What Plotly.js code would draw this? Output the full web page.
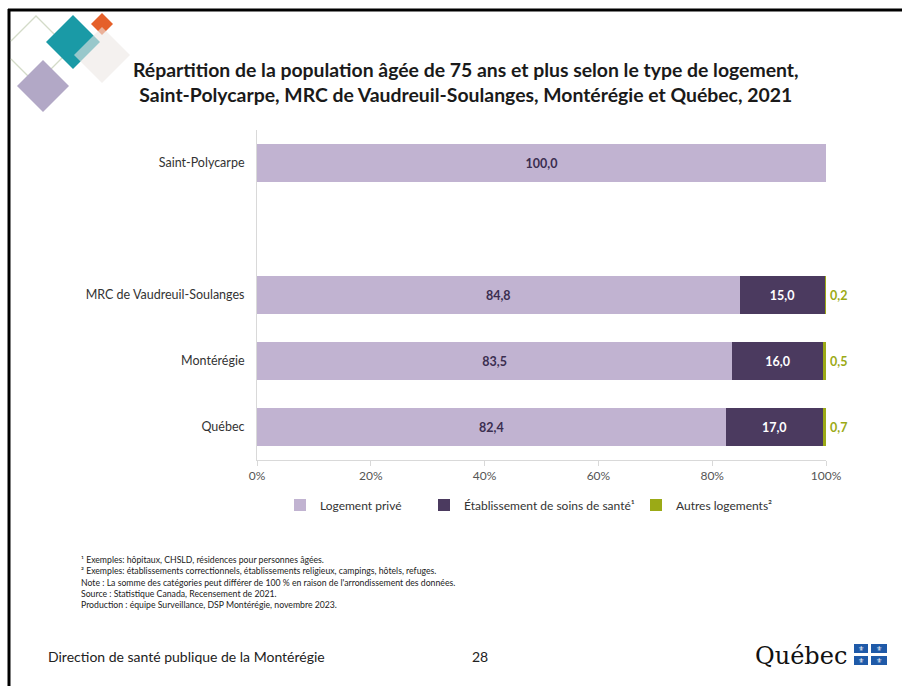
<!DOCTYPE html>
<html><head><meta charset="utf-8">
<script src="https://cdn.plot.ly/plotly-3.0.1.min.js"></script>
<style>html,body{margin:0;padding:0;background:#fff;}#chart{width:902px;height:686px;}</style>
</head><body><div id="chart"></div>
<script>
// ---- data ----
const categories = ['Saint-Polycarpe', 'MRC de Vaudreuil-Soulanges', 'Montérégie', 'Québec'];
const logementPrive = [100.0, 84.8, 83.5, 82.4];
const etabSoins = [0, 15.0, 16.0, 17.0];
const autres = [0, 0.2, 0.5, 0.7];
const seriesNames = ['Logement privé', 'Établissement de soins de santé¹', 'Autres logements²'];
const xTickVals = [0, 20, 40, 60, 80, 100];
const xTickText = ['0%', '20%', '40%', '60%', '80%', '100%'];

// row slots (an empty slot separates Saint-Polycarpe from the others)
const rows = [0, 2, 3, 4];

const fmt = v => v.toFixed(1).replace('.', ',');
const W = 902, H = 686, L = 257, R = 76, T = 130, B = 226;
const pw = W - L - R, ph = H - T - B;
const px = x => (x - L) / pw;
const py = y => 1 - (y - T) / ph;

const colors = ['#C1B3D1', '#4B3A5F', '#9BAA16'];
const FONT = 'Lato, "Open Sans", sans-serif';

const traces = [
  {type: 'bar', orientation: 'h', name: seriesNames[0], y: rows, x: logementPrive,
   marker: {color: colors[0], line: {width: 0}}, width: 0.58,
   text: logementPrive.map(fmt), textposition: 'inside', insidetextanchor: 'middle',
   textfont: {family: FONT, size: 12.5, color: '#3B2E50', weight: 'bold'}, legend: 'legend', hoverinfo: 'x+y'},
  {type: 'bar', orientation: 'h', name: seriesNames[1], y: rows, x: etabSoins,
   marker: {color: colors[1], line: {width: 0}}, width: 0.58,
   text: etabSoins.map(v => v > 0 ? fmt(v) : ''), textposition: 'inside', insidetextanchor: 'middle',
   textfont: {family: FONT, size: 12.5, color: '#FFFFFF', weight: 'bold'}, legend: 'legend2', hoverinfo: 'x+y'},
  {type: 'bar', orientation: 'h', name: seriesNames[2], y: rows, x: autres,
   marker: {color: colors[2], line: {width: 0}}, width: 0.58,
   textposition: 'none', legend: 'legend3', hoverinfo: 'x+y'}
];

const shapes = [];
const annotations = [];

// labels for the thin "Autres logements" segments, placed just after the stack end
rows.forEach((r, i) => {
  if (autres[i] > 0) {
    annotations.push({xref: 'x', yref: 'y', x: Math.min(100, logementPrive[i] + etabSoins[i] + autres[i]), y: r,
      xanchor: 'left', yanchor: 'middle', xshift: 2, showarrow: false, text: '<b>' + fmt(autres[i]) + '</b>',
      font: {family: FONT, size: 12.5, color: colors[2]}});
  }
});

// slide border (top and left)
shapes.push({type: 'line', xref: 'paper', yref: 'paper', x0: px(8), x1: px(902), y0: py(10), y1: py(10), line: {color: '#000', width: 3}});
shapes.push({type: 'line', xref: 'paper', yref: 'paper', x0: px(9), x1: px(9), y0: py(9), y1: py(686), line: {color: '#000', width: 3}});

// decorative diamonds top-left
function diamond(cx, cy, r, fill, opacity) {
  const p = `M ${px(cx)} ${py(cy - r)} L ${px(cx + r)} ${py(cy)} L ${px(cx)} ${py(cy + r)} L ${px(cx - r)} ${py(cy)} Z`;
  shapes.push({type: 'path', xref: 'paper', yref: 'paper', path: p, fillcolor: fill,
    line: {width: 0}, opacity: opacity == null ? 1 : opacity, layer: 'above'});
}
// outline diamond, cut at the slide border
shapes.push({type: 'path', xref: 'paper', yref: 'paper', layer: 'above',
  path: `M ${px(11)} ${py(41)} L ${px(36)} ${py(16)} L ${px(70)} ${py(50)} L ${px(36)} ${py(84)} L ${px(11)} ${py(59)}`,
  line: {color: '#D3DBC8', width: 1.3}});
diamond(73, 42, 27, '#1A9AA6');
diamond(102, 24, 11, '#E5602A');
diamond(102, 55, 28, 'rgba(236,232,229,0.6)');
diamond(43, 86, 26, '#B2A8C6');

// title
annotations.push({xref: 'paper', yref: 'paper', x: px(466), y: py(82), xanchor: 'center', yanchor: 'middle', showarrow: false,
  text: '<b>Répartition de la population âgée de 75 ans et plus selon le type de logement,<br>Saint-Polycarpe, MRC de Vaudreuil-Soulanges, Montérégie et Québec, 2021</b>',
  font: {family: FONT, size: 19.4, color: '#1a1a1a'}});

// footnotes
annotations.push({xref: 'paper', yref: 'paper', x: px(79), y: py(552), xanchor: 'left', yanchor: 'top', showarrow: false, align: 'left',
  text: '¹ Exemples: hôpitaux, CHSLD, résidences pour personnes âgées.<br>' +
        '² Exemples: établissements correctionnels, établissements religieux, campings, hôtels, refuges.<br>' +
        'Note : La somme des catégories peut différer de 100 % en raison de l\'arrondissement des données.<br>' +
        'Source : Statistique Canada, Recensement de 2021.<br>' +
        'Production : équipe Surveillance, DSP Montérégie, novembre 2023.',
  font: {family: FONT, size: 8.7, color: '#222'}});

// footer
annotations.push({xref: 'paper', yref: 'paper', x: px(46), y: py(656), xanchor: 'left', yanchor: 'middle', showarrow: false,
  text: 'Direction de santé publique de la Montérégie', font: {family: FONT, size: 14, color: '#222'}});
annotations.push({xref: 'paper', yref: 'paper', x: px(480), y: py(656), xanchor: 'center', yanchor: 'middle', showarrow: false,
  text: '28', font: {family: FONT, size: 14, color: '#222'}});

// Québec logo
annotations.push({xref: 'paper', yref: 'paper', x: px(849), y: py(656), xanchor: 'right', yanchor: 'middle', showarrow: false,
  text: 'Québec', font: {family: '"DejaVu Serif", "Liberation Serif", serif', size: 24, color: '#111'}});
[[854, 644, 868, 653], [871, 644, 887, 653], [854, 656, 868, 665], [871, 656, 887, 665]].forEach(r => {
  shapes.push({type: 'rect', xref: 'paper', yref: 'paper', x0: px(r[0]), x1: px(r[2]), y0: py(r[1]), y1: py(r[3]),
    fillcolor: '#1F5AA8', line: {width: 0}});
  annotations.push({xref: 'paper', yref: 'paper', x: px((r[0] + r[2]) / 2), y: py((r[1] + r[3]) / 2), showarrow: false,
    xanchor: 'center', yanchor: 'middle', text: '⚜', font: {family: 'DejaVu Sans', size: 7, color: '#fff'}});
});

const legendBase = {orientation: 'h', xanchor: 'left', yanchor: 'middle', y: py(505), itemwidth: 30,
  font: {family: FONT, size: 12, color: '#333'}, bgcolor: 'rgba(0,0,0,0)', itemclick: false};

const layout = {
  width: W, height: H,
  margin: {l: L, r: R, t: T, b: B, pad: 0},
  paper_bgcolor: '#fff', plot_bgcolor: '#fff',
  barmode: 'stack',
  showlegend: true,
  legend: Object.assign({}, legendBase, {x: px(280)}),
  legend2: Object.assign({}, legendBase, {x: px(424)}),
  legend3: Object.assign({}, legendBase, {x: px(636)}),
  xaxis: {range: [0, 100], tickvals: xTickVals, ticktext: xTickText, showgrid: false, zeroline: false,
    showline: true, linecolor: '#D9D9D9', linewidth: 1, ticks: 'outside', ticklen: 5, tickcolor: '#D9D9D9',
    tickfont: {family: FONT, size: 12, color: '#555'}, fixedrange: true},
  yaxis: {range: [4.5, -0.5], tickvals: rows, ticktext: categories, showgrid: false, zeroline: false,
    showline: true, linecolor: '#D9D9D9', linewidth: 1, ticks: '', ticklabelstandoff: 9,
    tickfont: {family: FONT, size: 12.5, color: '#333'}, fixedrange: true},
  shapes: shapes,
  annotations: annotations
};

Plotly.newPlot('chart', traces, layout, {displayModeBar: false, staticPlot: true});
</script>
</body></html>
